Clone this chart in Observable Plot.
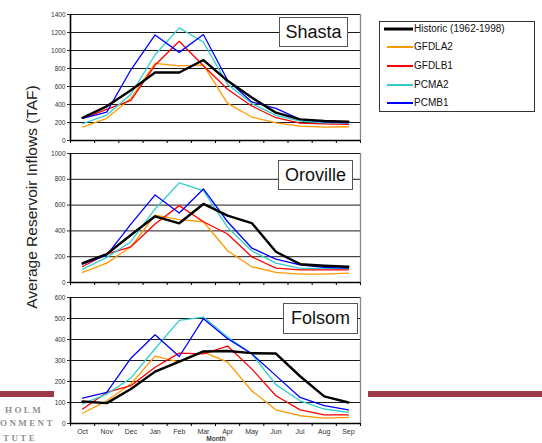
<!DOCTYPE html>
<html>
<head>
<meta charset="utf-8">
<script src="https://cdn.jsdelivr.net/npm/d3@7"></script>
<script src="https://cdn.jsdelivr.net/npm/@observablehq/plot@0.6"></script>
<style>
  html, body { margin: 0; padding: 0; background: #fff; }
  #wrap { position: relative; width: 542px; height: 443px; overflow: hidden; font-family: "Liberation Sans", Arial, sans-serif; }
  .panel { position: absolute; left: 40px; }
  .tbox { position: absolute; background: #fff; border: 1px solid #555; font-size: 18px; color: #111; text-align: center; box-sizing: border-box; line-height: 28px; }
  #legend { position: absolute; left: 379px; top: 21px; width: 156px; height: 91px; border: 1px solid #333; box-sizing: border-box; background: #fff; font-size: 10px; color: #111; }
  .lg { position: absolute; left: 0; height: 14px; line-height: 14px; white-space: nowrap; }
  .lg svg { position: absolute; top: 0; }
  .lg span { position: absolute; left: 34px; top: 0; }
  #ylab { position: absolute; left: 32px; top: 197px; transform: translate(-50%, -50%) rotate(-90deg); font-size: 15.5px; color: #222; white-space: nowrap; }
  .bar { position: absolute; background: #9c3a4b; height: 6px; top: 391px; }
  .logo { position: absolute; font-family: "Liberation Serif", "DejaVu Serif", serif; font-weight: bold; color: #8f8f8f; font-size: 9px; letter-spacing: 2.4px; white-space: nowrap; }
  #month { position: absolute; left: 216px; top: 435px; transform: translateX(-50%); font-size: 6.5px; line-height: 7px; color: #444; font-weight: bold; }
</style>
</head>
<body>
<div id="wrap"></div>
<script>
const months = ["Oct","Nov","Dec","Jan","Feb","Mar","Apr","May","Jun","Jul","Aug","Sep"];
const seriesNames = ["Historic (1962-1998)","GFDLA2","GFDLB1","PCMA2","PCMB1"];
const seriesColors = ["#000000","#ff9900","#ff0000","#33cccc","#0000ff"];
const seriesWidths = [2.4, 1.3, 1.3, 1.3, 1.3];

const shastaHistoric = [253,380,558,756,756,894,663,477,309,235,216,208];
const shastaGFDLA2   = [149,246,469,856,830,838,413,261,197,160,149,153];
const shastaGFDLB1   = [246,346,447,838,1102,830,570,383,253,194,186,179];
const shastaPCMA2    = [186,283,514,953,1251,1091,625,410,279,216,197,197];
const shastaPCMB1    = [246,316,786,1173,979,1177,670,428,357,235,208,197];

const orovilleHistoric = [150,220,368,513,459,609,518,461,238,142,130,122];
const orovilleGFDLA2   = [78,150,277,523,487,471,246,122,78,65,65,73];
const orovilleGFDLB1   = [124,220,277,453,596,471,376,199,111,98,98,98];
const orovillePCMA2    = [104,194,316,570,772,712,427,246,150,109,109,109];
const orovillePCMB1    = [142,212,453,679,539,725,471,267,181,137,117,111];

const folsomHistoric = [105,97,164,247,295,343,345,335,333,225,129,100];
const folsomGFDLA2   = [49,108,188,321,292,340,292,156,65,37,26,29];
const folsomGFDLB1   = [69,148,180,268,335,332,369,260,132,65,41,41];
const folsomPCMA2    = [93,140,217,356,491,507,412,332,185,108,69,53];
const folsomPCMB1    = [121,148,311,423,319,499,404,332,228,124,85,65];

const reservoirs = ["Shasta","Oroville","Folsom"];
const yMax = [1400, 1000, 600];
const yStep = [200, 200, 100];

const wrap = document.getElementById("wrap");

function panel(series, ymax, step, opts) {
  const ticks = d3.range(0, ymax + 1, step);
  const marks = [
    Plot.ruleY(ticks, {stroke: "#1a1a1a", strokeWidth: 1}),
    Plot.ruleX([12], {stroke: "#888", strokeWidth: 1.3}),
    Plot.ruleX(d3.range(13), {y1: 0, y2: -ymax * 3 / 126, stroke: "#000"}),
    Plot.ruleX([0], {stroke: "#000", strokeWidth: 1.6}),
    Plot.ruleY([0], {stroke: "#000", strokeWidth: 1.4})
  ];
  const order = [1, 2, 3, 4, 0];
  for (const k of order) {
    marks.push(Plot.line(series[k], {
      x: (d, i) => i + 0.5,
      y: d => d,
      stroke: seriesColors[k],
      strokeWidth: seriesWidths[k]
    }));
  }
  const svg = Plot.plot({
    width: 325,
    height: opts.height,
    marginLeft: 30,
    marginRight: 5,
    marginTop: opts.mt,
    marginBottom: opts.mb,
    style: {background: "white", fontFamily: "'Liberation Sans', Arial, sans-serif", fontSize: "6.5px", color: "#333"},
    x: opts.labels
      ? {domain: [0, 12], ticks: months.map((m, i) => i + 0.5), tickFormat: d => months[Math.floor(d)], tickSize: 0, tickPadding: 6, label: null}
      : {domain: [0, 12], axis: null},
    y: {domain: [0, ymax], ticks: ticks, tickSize: 3, tickPadding: 2, tickFormat: d => String(d), label: null},
    marks
  });
  svg.classList.add("panel");
  svg.style.top = opts.top + "px";
  if (opts.labels) {
    svg.querySelectorAll("text").forEach(t => { if (t.textContent.length === 3 && isNaN(+t.textContent)) t.style.fontSize = "7px"; });
  }
  wrap.appendChild(svg);
}

panel([shastaHistoric, shastaGFDLA2, shastaGFDLB1, shastaPCMA2, shastaPCMB1], yMax[0], yStep[0], {top: 4, height: 150, mt: 10, mb: 14, labels: false});
panel([orovilleHistoric, orovilleGFDLA2, orovilleGFDLB1, orovillePCMA2, orovillePCMB1], yMax[1], yStep[1], {top: 146, height: 150, mt: 7, mb: 14, labels: false});
panel([folsomHistoric, folsomGFDLA2, folsomGFDLB1, folsomPCMA2, folsomPCMB1], yMax[2], yStep[2], {top: 290, height: 153, mt: 7, mb: 20, labels: true});

// title boxes
const boxes = [
  {left: 279, top: 17, w: 69, h: 30},
  {left: 278, top: 160, w: 75, h: 30},
  {left: 283, top: 303, w: 75, h: 31}
];
reservoirs.forEach((name, i) => {
  const b = document.createElement("div");
  b.className = "tbox";
  b.style.left = boxes[i].left + "px";
  b.style.top = boxes[i].top + "px";
  b.style.width = boxes[i].w + "px";
  b.style.height = boxes[i].h + "px";
  b.textContent = name;
  wrap.appendChild(b);
});

// legend
const legend = document.createElement("div");
legend.id = "legend";
const lgTops = [0, 18, 37, 56, 74];
seriesNames.forEach((name, k) => {
  const row = document.createElement("div");
  row.className = "lg";
  row.style.top = lgTops[k] + "px";
  const x1 = k === 0 ? 4 : 7;
  row.innerHTML = `<svg width="34" height="14" style="left:0"><line x1="${x1}" x2="33" y1="7" y2="7" stroke="${seriesColors[k]}" stroke-width="${k === 0 ? 3 : 2}"/></svg><span>${name}</span>`;
  legend.appendChild(row);
});
wrap.appendChild(legend);

// y-axis title
const yl = document.createElement("div");
yl.id = "ylab";
yl.textContent = "Average Reservoir Inflows (TAF)";
wrap.appendChild(yl);

// x-axis title
const ml = document.createElement("div");
ml.id = "month";
ml.textContent = "Month";
wrap.appendChild(ml);

// background decoration
const b1 = document.createElement("div");
b1.className = "bar"; b1.style.left = "0px"; b1.style.width = "54px";
wrap.appendChild(b1);
const b2 = document.createElement("div");
b2.className = "bar"; b2.style.left = "368px"; b2.style.width = "174px";
wrap.appendChild(b2);
const logoLines = [{t: "HOLM", x: 5, y: 405}, {t: "ONMENT", x: 0, y: 418}, {t: "TUTE", x: 3, y: 433}];
logoLines.forEach(l => {
  const d = document.createElement("div");
  d.className = "logo";
  d.style.left = l.x + "px";
  d.style.top = l.y + "px";
  d.textContent = l.t;
  wrap.appendChild(d);
});
</script>
</body>
</html>
